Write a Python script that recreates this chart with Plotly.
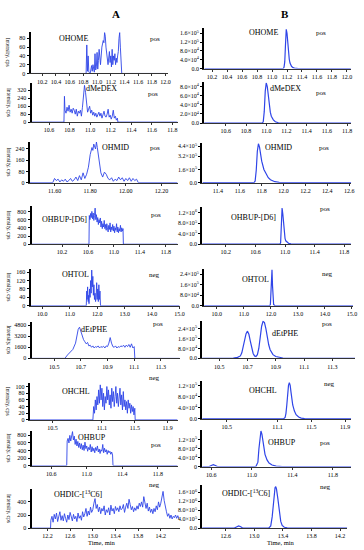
import plotly.graph_objects as go

W, H = 364, 550
BLUE = "#2f45e8"
SERIF = "Liberation Serif"

# ---------------- Column A (raw, noisy) ----------------
ohome_a_t = [10.0, 10.84, 10.85, 10.86, 10.87, 10.88, 10.9, 10.92, 10.93, 10.94, 10.96, 10.97, 10.98, 10.99, 11.0,
             11.01, 11.02, 11.03, 11.05, 11.07, 11.09, 11.1, 11.11, 11.12, 11.13, 11.14, 11.16, 11.18, 11.19, 11.2,
             11.21, 11.22, 11.23, 11.24, 11.25, 11.26, 11.27, 11.28, 11.29, 11.3, 11.31, 11.32, 11.33, 11.34, 11.35,
             11.36, 12.0]
ohome_a_y = [0, 0, 65, 5, 40, 3, 0, 18, 5, 20, 3, 45, 8, 15, 48,
             10, 30, 55, 20, 60, 75, 70, 93, 85, 60, 45, 20, 50, 25, 40,
             15, 55, 20, 40, 30, 45, 20, 35, 25, 40, 50, 80, 93, 60, 0,
             0, 0]

dmedex_a_t = [10.43, 10.745, 10.75, 10.755, 10.765, 10.775, 10.785, 10.795, 10.805, 10.815, 10.825, 10.835, 10.845,
              10.855, 10.865, 10.875, 10.885, 10.895, 10.905, 10.915, 10.925, 10.935, 10.945, 10.955, 10.965, 10.975,
              10.985, 10.995, 11.005, 11.015, 11.025, 11.035, 11.045, 11.055, 11.065, 11.075, 11.085, 11.095, 11.105,
              11.115, 11.125, 11.135, 11.145, 11.155, 11.165, 11.175, 11.185, 11.195, 11.205, 11.215, 11.225, 11.235,
              11.245, 11.255, 11.265, 11.27, 11.85]
dmedex_a_y = [0, 0, 260, 120, 90, 150, 110, 170, 100, 130, 90, 140, 120,
              80, 130, 60, 110, 90, 120, 60, 150, 240, 370, 300, 160, 100,
              130, 160, 90, 120, 70, 100, 60, 90, 50, 80, 100, 60, 90,
              40, 70, 110, 60, 50, 80, 130, 50, 70, 30, 60, 120, 40,
              60, 20, 40, 0, 0]

ohmid_a_t = [11.46, 11.59, 11.60, 11.61, 11.62, 11.63, 11.64, 11.65, 11.66, 11.67, 11.68, 11.69, 11.70, 11.71, 11.72,
             11.73, 11.74, 11.75, 11.76, 11.77, 11.78, 11.79, 11.80, 11.81, 11.815, 11.82, 11.83, 11.835, 11.84, 11.85,
             11.86, 11.87, 11.88, 11.89, 11.90, 11.91, 11.92, 11.93, 11.94, 11.95, 11.96, 11.97, 11.98, 11.99, 12.00,
             12.01, 12.02, 12.03, 12.04, 12.05, 12.06, 12.07, 12.29]
ohmid_a_y = [0, 0, 30, 15, 25, 5, 20, 10, 25, 5, 15, 30, 10, 20, 40,
             15, 50, 20, 70, 30, 60, 110, 200, 250, 230, 275, 240, 290, 250, 160,
             70, 40, 75, 60, 30, 20, 35, 10, 25, 15, 40, 20, 35, 10, 30,
             15, 35, 10, 30, 15, 25, 0, 0]

ohbupd6_a_t = [9.73, 10.615, 10.62, 10.63, 10.64, 10.65, 10.66, 10.67, 10.68, 10.69, 10.70, 10.71, 10.72, 10.73,
               10.74, 10.75, 10.76, 10.77, 10.78, 10.79, 10.80, 10.81, 10.82, 10.83, 10.84, 10.85, 10.86, 10.87,
               10.88, 10.89, 10.90, 10.91, 10.92, 10.93, 10.94, 10.95, 10.96, 10.97, 10.98, 10.99, 11.00, 11.01,
               11.02, 11.03, 11.04, 11.05, 11.06, 11.07, 11.08, 11.09, 11.10, 11.11, 11.12, 11.13, 11.14, 11.145, 11.98]
ohbupd6_a_y = [0, 0, 700, 600, 750, 650, 800, 620, 760, 580, 700, 880, 600, 720,
               540, 650, 480, 600, 520, 640, 420, 560, 380, 500, 420, 580, 380, 480,
               340, 500, 400, 300, 460, 360, 520, 300, 420, 350, 480, 320, 440, 280,
               400, 340, 500, 300, 420, 280, 380, 320, 460, 300, 400, 320, 380, 0, 0]

ohtol_a_t = [9.57, 11.6, 11.62, 11.63, 11.65, 11.67, 11.69, 11.7, 11.72, 11.74, 11.76, 11.78, 11.8, 11.82, 11.84,
             11.86, 11.88, 11.9, 11.92, 11.94, 11.96, 11.98, 12.0, 12.02, 12.04, 12.06, 12.08, 12.1, 12.12, 15.0]
ohtol_a_y = [0, 0, 70, 30, 90, 20, 50, 10, 80, 40, 120, 60, 170, 90, 140,
             50, 100, 30, 60, 20, 40, 110, 30, 80, 20, 100, 30, 70, 0, 0]

detphe_a_t = [10.33, 10.58, 10.6, 10.62, 10.64, 10.66, 10.67, 10.68, 10.69, 10.70, 10.71, 10.72, 10.73, 10.74, 10.75,
              10.76, 10.77, 10.78, 10.79, 10.80, 10.81, 10.82, 10.83, 10.84, 10.85, 10.86, 10.87, 10.88, 10.89, 10.90,
              10.91, 10.92, 10.93, 10.94, 10.95, 10.96, 10.97, 10.98, 10.99, 11.00, 11.01, 11.02, 11.03, 11.04, 11.05,
              11.06, 11.07, 11.08, 11.09, 11.10, 11.105, 11.44]
detphe_a_y = [0, 0, 500, 900, 1300, 2200, 3200, 4200, 4500, 3800, 3300, 2700, 2400, 2100, 2300,
              1800, 1900, 1600, 1800, 1500, 1700, 1600, 1800, 1500, 1700, 1600, 1750, 1500, 1800, 1700,
              2200, 3000, 2200, 1700, 1600, 1800, 1500, 1700, 1600, 1800, 1700, 1900, 1600, 1900, 1700,
              2000, 1600, 2100, 1500, 1700, 0, 0]

ohchl_a_t = [10.22, 10.99, 11.0, 11.01, 11.02, 11.03, 11.04, 11.05, 11.06, 11.07, 11.08, 11.09, 11.1, 11.11, 11.12,
             11.13, 11.14, 11.15, 11.16, 11.17, 11.18, 11.19, 11.2, 11.21, 11.22, 11.23, 11.24, 11.25, 11.26, 11.27,
             11.28, 11.29, 11.3, 11.31, 11.32, 11.33, 11.34, 11.35, 11.36, 11.37, 11.38, 11.39, 11.4, 11.41, 11.42,
             11.43, 11.44, 11.45, 11.46, 11.47, 11.48, 11.49, 11.5, 11.505, 12.02]
ohchl_a_y = [0, 0, 40, 20, 60, 30, 70, 45, 90, 50, 105, 60, 95, 40, 80,
             30, 70, 50, 100, 60, 90, 45, 75, 35, 95, 55, 85, 40, 70, 100,
             50, 80, 40, 65, 95, 45, 75, 30, 85, 40, 60, 30, 55, 20, 60,
             35, 50, 20, 45, 25, 40, 15, 35, 0, 0]

ohbup_a_t = [10.38, 10.775, 10.78, 10.79, 10.80, 10.81, 10.82, 10.83, 10.84, 10.85, 10.86, 10.87, 10.88, 10.89, 10.90,
             10.91, 10.92, 10.93, 10.94, 10.95, 10.96, 10.97, 10.98, 10.99, 11.00, 11.01, 11.02, 11.03, 11.04, 11.05,
             11.06, 11.07, 11.08, 11.09, 11.10, 11.11, 11.12, 11.13, 11.14, 11.15, 11.16, 11.17, 11.18, 11.19, 11.20,
             11.21, 11.22, 11.23, 11.24, 11.25, 11.26, 11.27, 11.28, 11.29, 11.295, 12.02]
ohbup_a_y = [0, 0, 650, 720, 600, 800, 650, 750, 900, 680, 780, 560, 700, 520, 640,
             480, 600, 450, 580, 420, 540, 400, 620, 450, 520, 380, 480, 420, 560, 360,
             500, 380, 460, 340, 480, 400, 520, 360, 440, 320, 420, 380, 560, 340, 460,
             360, 420, 300, 400, 340, 380, 300, 360, 280, 0, 0]

ohdic_a_t0 = 12.26
ohdic_a_dt = 0.02
ohdic_a_y = [120, 180, 90, 210, 140, 230, 100, 170, 250, 120,
             190, 110, 220, 150, 90, 200, 130, 240, 160, 110,
             210, 140, 180, 100, 230, 150, 190, 120, 250, 170,
             220, 300, 180, 260, 200, 320, 240, 280, 380, 450,
             300, 360, 250, 320, 220, 300, 260, 340, 200, 280,
             240, 310, 200, 350, 260, 300, 220, 330, 270, 310,
             250, 340, 280, 300, 360, 240, 320, 380, 300, 440,
             360, 280, 330, 250, 310, 270, 340, 290, 380, 330,
             400, 320, 480, 360, 300, 380, 260, 320, 240, 290,
             220, 300, 250, 340, 280, 400, 320, 380, 460, 560,
             420, 300, 250, 180, 220, 150, 200, 140, 180, 160,
             200, 150, 190, 140]
ohdic_a_t = [11.92, 12.255] + [round(ohdic_a_t0 + ohdic_a_dt * i, 3) for i in range(len(ohdic_a_y))]
ohdic_a_y = [0, 0] + ohdic_a_y

# ---------------- Column B (smooth peaks) ----------------
ohome_b_t = [10.1, 11.15, 11.16, 11.17, 11.18, 11.19, 11.2, 11.21, 11.22, 11.23, 11.24, 11.26, 11.28, 11.3, 11.35, 12.05]
ohome_b_y = [0, 0, 5000, 30000, 110000, 178000, 160000, 110000, 70000, 42000, 25000, 10000, 4000, 1500, 0, 0]

dmedex_b_t = [10.385, 10.96, 10.97, 10.98, 10.99, 11.0, 11.01, 11.02, 11.03, 11.04, 11.05, 11.07, 11.09, 11.12, 11.2, 11.84]
dmedex_b_y = [0, 0, 3000, 25000, 70000, 88000, 80000, 58000, 38000, 24000, 15000, 7000, 3000, 800, 0, 0]

ohmid_b_t = [11.26, 11.73, 11.74, 11.75, 11.76, 11.77, 11.78, 11.79, 11.8, 11.82, 11.84, 11.86, 11.88, 11.92, 11.96,
             12.0, 12.62]
ohmid_b_y = [0, 0, 20000, 150000, 380000, 470000, 430000, 340000, 260000, 160000, 100000, 60000, 35000, 12000, 3000,
             0, 0]

ohbupd6_b_t = [9.88, 10.93, 10.94, 10.95, 10.96, 10.97, 10.98, 10.99, 11.0, 11.01, 11.03, 11.05, 11.08, 11.11, 11.16,
               11.21, 11.89]
ohbupd6_b_y = [0, 0, 50000, 600000, 1380000, 1150000, 700000, 400000, 220000, 130000, 60000, 30000, 15000, 8000,
               3000, 0, 0]

ohtol_b_t = [9.53, 11.95, 11.98, 12.0, 12.02, 12.04, 12.06, 12.08, 12.1, 12.15, 15.04]
ohtol_b_y = [0, 0, 10000, 80000, 240000, 275000, 150000, 50000, 10000, 0, 0]

detphe_b_t = [10.38, 10.55, 10.6, 10.63, 10.65, 10.66, 10.67, 10.68, 10.69, 10.7, 10.71, 10.72, 10.73, 10.74, 10.75,
              10.76, 10.77, 10.78, 10.79, 10.8, 10.81, 10.82, 10.83, 10.84, 10.85, 10.86, 10.87, 10.88, 10.9, 10.92,
              10.95, 11.0, 11.46]
detphe_b_y = [0, 0, 3000, 8000, 20000, 45000, 90000, 150000, 200000, 220000, 195000, 140000, 80000, 40000, 20000,
              15000, 30000, 80000, 170000, 260000, 300000, 290000, 240000, 170000, 110000, 70000, 45000, 30000, 15000,
              8000, 3000, 0, 0]

ohchl_b_t = [10.21, 11.17, 11.19, 11.2, 11.21, 11.22, 11.23, 11.24, 11.25, 11.26, 11.27, 11.28, 11.3, 11.32, 11.35,
             11.38, 11.42, 11.46, 11.97]
ohchl_b_y = [0, 0, 5000, 20000, 50000, 90000, 120000, 130000, 120000, 95000, 70000, 50000, 28000, 15000, 7000,
             3000, 1000, 0, 0]

ohbup_b_t = [10.51, 10.58, 10.6, 10.62, 10.64, 10.66, 11.04, 11.06, 11.07, 11.08, 11.09, 11.1, 11.11, 11.12, 11.13,
             11.15, 11.17, 11.2, 11.24, 11.3, 11.98]
ohbup_b_y = [0, 0, 5000, 9000, 5000, 0, 0, 20000, 80000, 140000, 160000, 145000, 110000, 80000, 55000,
             30000, 16000, 7000, 2000, 0, 0]

ohdic_b_t = [12.27, 12.72, 12.75, 12.78, 12.81, 12.84, 13.2, 13.23, 13.25, 13.27, 13.29, 13.3, 13.31, 13.33, 13.35,
             13.37, 13.39, 13.42, 13.46, 13.5, 14.3]
ohdic_b_y = [0, 0, 50000, 100000, 60000, 0, 0, 100000, 500000, 1300000, 1800000, 1850000, 1750000, 1300000, 700000,
             300000, 120000, 40000, 10000, 0, 0]

# ---------------- Labels & ticks ----------------
compounds = ["OHOME", "dMeDEX", "OHMID", "OHBUP-[D6]", "OHTOL", "dEtPHE", "OHCHL", "OHBUP", "OHDIC-[<sup>13</sup>C6]"]
modes = ["pos", "pos", "pos", "pos", "neg", "pos", "neg", "pos", "neg"]


def sci(m, e):
    return f"{m}×10<sup>{e}</sup>"


a_xticks = [
    [10.2, 10.4, 10.6, 10.8, 11.0, 11.2, 11.4, 11.6, 11.8, 12.0],
    [10.6, 10.8, 11.0, 11.2, 11.4, 11.6, 11.8],
    [11.6, 11.8, 12.0, 12.2],
    [10.2, 10.6, 11.0, 11.4, 11.8],
    [10.0, 11.0, 12.0, 13.0, 14.0, 15.0],
    [10.5, 10.7, 10.9, 11.1, 11.3],
    [10.5, 11.1, 11.5, 11.9],
    [10.6, 11.0, 11.4, 11.8],
    [12.2, 12.6, 13.0, 13.4, 13.8, 14.2],
]
a_xticktext = [
    ["10.2", "10.4", "10.6", "10.8", "11.0", "11.2", "11.4", "11.6", "11.8", "12.0"],
    ["10.6", "10.8", "11.0", "11.2", "11.4", "11.6", "11.8"],
    ["11.60", "11.80", "12.00", "12.20"],
    ["10.2", "10.6", "11.0", "11.4", "11.8"],
    ["10.0", "11.0", "12.0", "13.0", "14.0", "15.0"],
    ["10.5", "10.7", "10.9", "11.1", "11.3"],
    ["10.5", "11.1", "11.5", "11.9"],
    ["10.6", "11.0", "11.4", "11.8"],
    ["12.2", "12.6", "13.0", "13.4", "13.8", "14.2"],
]
a_yticks = [
    [0, 20, 40, 60, 80],
    [0, 80, 160, 240, 320],
    [0, 80, 160, 240],
    [0, 200, 400, 600, 800],
    [0, 40, 80, 120, 160],
    [0, 1600, 3200, 4800],
    [0, 20, 40, 60, 80, 100],
    [0, 200, 400, 600, 800],
    [0, 200, 400],
]
b_xticks = [
    [10.2, 10.4, 10.6, 10.8, 11.0, 11.2, 11.4, 11.6, 11.8, 12.0],
    [10.6, 10.8, 11.0, 11.2, 11.4, 11.6, 11.8],
    [11.4, 11.6, 11.8, 12.0, 12.2, 12.4, 12.6],
    [10.2, 10.6, 11.0, 11.4, 11.8],
    [10.0, 11.0, 12.0, 13.0, 14.0, 15.0],
    [10.5, 10.7, 10.9, 11.1, 11.3],
    [10.5, 11.1, 11.5, 11.9],
    [10.6, 11.0, 11.4, 11.8],
    [12.6, 13.0, 13.4, 13.8, 14.2],
]
b_yticks = [
    [0, 40000, 80000, 120000, 160000],
    [0, 20000, 40000, 60000, 80000],
    [0, 160000, 320000, 440000],
    [0, 400000, 800000, 1200000],
    [0, 80000, 160000, 240000],
    [0, 80000, 160000, 240000],
    [0, 40000, 80000, 120000],
    [0, 40000, 80000, 120000],
    [0, 400000, 800000, 1200000, 1600000],
]
b_yticktext = [
    ["0.0", sci("4.0", 4), sci("8.0", 4), sci("1.2", 5), sci("1.6", 5)],
    ["0.0", sci("2.0", 4), sci("4.0", 4), sci("6.0", 4), sci("8.0", 4)],
    ["0.0", sci("1.6", 5), sci("3.2", 5), sci("4.4", 5)],
    ["0.0", sci("4.0", 5), sci("8.0", 5), sci("1.2", 6)],
    ["0.0", sci("8.0", 4), sci("1.6", 5), sci("2.4", 5)],
    ["0.0", sci("8.0", 4), sci("1.6", 5), sci("2.4", 5)],
    ["0.0", sci("4.0", 4), sci("8.0", 4), sci("1.2", 5)],
    ["0", sci("4.0", 4), sci("8.0", 4), sci("1.2", 5)],
    ["0.0", sci("4.0", 5), sci("8.0", 5), sci("1.2", 6), sci("1.6", 6)],
]

a_data = [(ohome_a_t, ohome_a_y), (dmedex_a_t, dmedex_a_y), (ohmid_a_t, ohmid_a_y), (ohbupd6_a_t, ohbupd6_a_y),
          (ohtol_a_t, ohtol_a_y), (detphe_a_t, detphe_a_y), (ohchl_a_t, ohchl_a_y), (ohbup_a_t, ohbup_a_y),
          (ohdic_a_t, ohdic_a_y)]
b_data = [(ohome_b_t, ohome_b_y), (dmedex_b_t, dmedex_b_y), (ohmid_b_t, ohmid_b_y), (ohbupd6_b_t, ohbupd6_b_y),
          (ohtol_b_t, ohtol_b_y), (detphe_b_t, detphe_b_y), (ohchl_b_t, ohchl_b_y), (ohbup_b_t, ohbup_b_y),
          (ohdic_b_t, ohdic_b_y)]
for t, y in a_data + b_data:
    assert len(t) == len(y), (len(t), len(y))

# ---------------- Layout geometry (pixels) ----------------
a_boxes = [(31, 170, 31, 73), (32, 180, 83, 122), (30, 180, 142, 183), (32, 180, 207, 245), (31, 182, 270, 307),
           (32, 182, 323, 360), (30, 180, 385, 422), (32, 180, 433, 468), (32, 182, 492, 531)]
a_xr = [(10.03, 12.03), (10.43, 11.85), (11.46, 12.29), (9.73, 11.98), (9.57, 15.0), (10.33, 11.44), (10.22, 12.02),
        (10.38, 12.02), (11.92, 14.53)]
a_yr = [95, 390, 290, 920, 175, 5300, 110, 920, 590]
a_lab = [(75, 38), (103, 88), (117, 148), (65, 220), (77, 276), (95, 331), (77, 393), (93, 440), (80, 497)]
a_mode = [(157, 38), (155, 94), (157, 148), (158, 216), (157, 276), (160, 325), (157, 380), (158, 447), (157, 488)]

b_boxes = [(207, 356, 27, 68), (207, 356, 82, 123), (205, 356, 143, 183), (205, 356, 208, 245), (207, 358, 270, 307),
           (205, 360, 322, 360), (205, 356, 383, 421), (205, 356, 432, 469), (205, 352, 488, 531)]
b_xr = [(10.095, 12.055), (10.385, 11.84), (11.256, 12.617), (9.88, 11.893), (9.53, 15.04), (10.38, 11.46),
        (10.21, 11.97), (10.51, 11.98), (12.27, 14.3)]
b_yr = [185000, 89000, 480000, 1400000, 280000, 305000, 135000, 165000, 1900000]
b_lab = [(267, 32), (289, 88), (282, 148), (257, 218), (259, 281), (289, 335), (267, 392), (286, 445), (250, 496)]
b_mode = [(325, 32), (325, 93), (329, 148), (330, 210), (332, 275), (332, 325), (334, 386), (330, 445), (330, 490)]

fig = go.Figure()
annotations = []
tickfont = dict(family=SERIF, size=6, color="black")
ytickfont = dict(family=SERIF, size=6, color="black")


def add_panel(idx, t, y, box, xr, ymax, xtv, xtt, ytv, ytt, width):
    xa = "x" if idx == 1 else f"x{idx}"
    ya = "y" if idx == 1 else f"y{idx}"
    x0, x1, yt, yb = box
    fig.add_trace(go.Scatter(x=t, y=y, xaxis=xa, yaxis=ya, mode="lines",
                             line=dict(color=BLUE, width=width), hoverinfo="skip"))
    fig.update_layout(**{
        ("xaxis" if idx == 1 else f"xaxis{idx}"): dict(
            domain=[x0 / W, x1 / W], anchor=ya, range=list(xr), tickvals=xtv, ticktext=xtt, tickangle=0,
            showline=True, linecolor="#333333", linewidth=1, ticks="outside", ticklen=2, tickwidth=1,
            tickcolor="#333333", tickfont=tickfont, showgrid=False, zeroline=False, fixedrange=True),
        ("yaxis" if idx == 1 else f"yaxis{idx}"): dict(
            domain=[1 - yb / H, 1 - yt / H], anchor=xa, range=[0, ymax], tickvals=ytv, ticktext=ytt,
            showline=True, linecolor="black", linewidth=2, ticks="outside", ticklen=2, tickwidth=1,
            tickcolor="black", tickfont=ytickfont, showgrid=False, zeroline=False, fixedrange=True),
    })


def ann(x, y, text, size, bold=False, angle=0, anchor="center"):
    annotations.append(dict(x=x / W, y=1 - y / H, xref="paper", yref="paper", text=f"<b>{text}</b>" if bold else text,
                            showarrow=False, textangle=angle, xanchor=anchor, yanchor="middle",
                            font=dict(family=SERIF, size=size, color="black")))


for i in range(9):
    t, y = a_data[i]
    add_panel(i + 1, t, y, a_boxes[i], a_xr[i], a_yr[i], a_xticks[i], a_xticktext[i],
              a_yticks[i], [str(v) for v in a_yticks[i]], 0.9)
    ann(*a_lab[i], compounds[i], 8)
    ann(*a_mode[i], modes[i], 7)
    ann(9, (a_boxes[i][2] + a_boxes[i][3]) / 2, "Intensity, cps", 5.5, angle=90)

for i in range(9):
    t, y = b_data[i]
    add_panel(i + 10, t, y, b_boxes[i], b_xr[i], b_yr[i], b_xticks[i], [f"{v:.1f}" for v in b_xticks[i]],
              b_yticks[i], b_yticktext[i], 1.2)
    ann(*b_lab[i], compounds[i], 8)
    ann(*b_mode[i], modes[i], 7)

ann(118, 13, "A", 11, bold=True)
ann(289, 13, "B", 11, bold=True)
ann(103, 545, "Time, min", 6.5)
ann(285, 545, "Time, min", 6.5)

fig.update_layout(width=W, height=H, margin=dict(l=0, r=0, t=0, b=0), paper_bgcolor="white",
                  plot_bgcolor="white", showlegend=False, annotations=annotations)

fig.write_html("out.html", config={"displayModeBar": False},
               post_script="document.body.style.margin='0px';document.body.style.overflow='hidden';")
